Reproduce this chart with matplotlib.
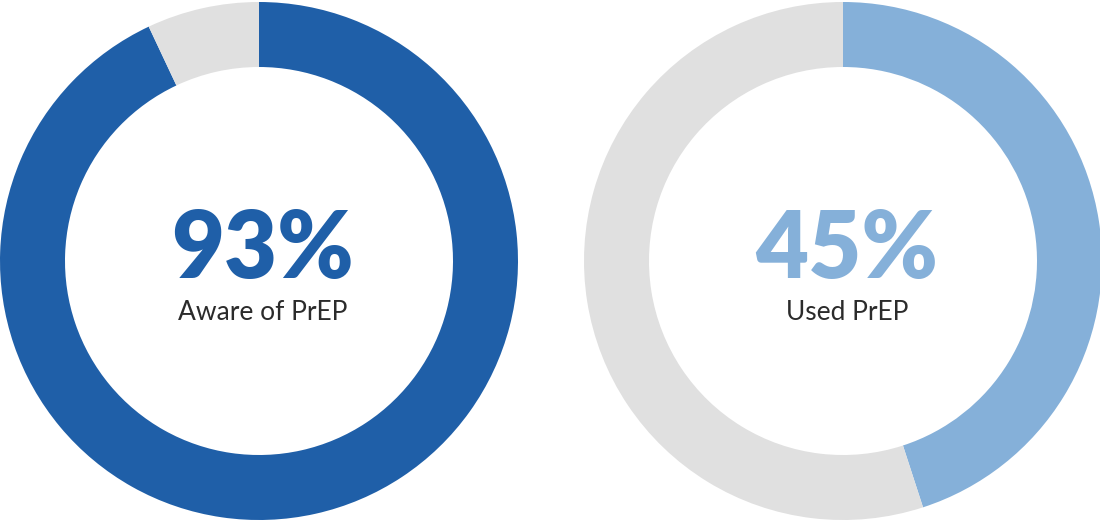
import matplotlib
matplotlib.use("Agg")
import matplotlib.pyplot as plt

# share of respondents per ring
labels = ["Aware of PrEP", "Used PrEP"]
values = [93, 45]
ring_colors = ["#1F5FA8", "#85B0D9"]
rest_color = "#E0E0E0"

W, H = 1100, 522
fig = plt.figure(figsize=(W / 100, H / 100), dpi=100)
ax = fig.add_axes([0, 0, 1, 1])

centers = [(259, 261), (843, 261)]
outer_r = 259
ring_w = 65

for (cx, cy), label, val, col in zip(centers, labels, values, ring_colors):
    ax.pie([val, 100 - val], colors=[col, rest_color], startangle=90,
           counterclock=False, radius=outer_r, center=(cx, cy),
           wedgeprops=dict(width=ring_w, linewidth=0), frame=True)
    ax.text(cx + 4, cy + 10, f"{val}%", ha="center", va="center",
            fontsize=66, fontweight="heavy", family="Lato", color=col)
    ax.text(cx + 4, cy - 51, label, ha="center", va="center",
            fontsize=19, family="Lato", color="#2B2B2B")

ax.set_xlim(0, W)
ax.set_ylim(0, H)
ax.set_aspect("equal")
ax.axis("off")

fig.savefig("out.png", dpi=100, facecolor="white")
